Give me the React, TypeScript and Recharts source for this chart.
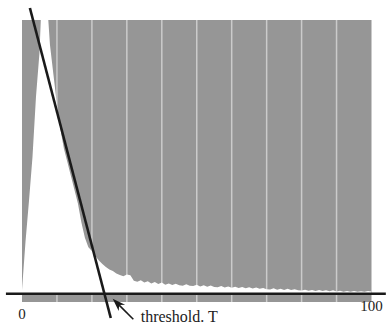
import React from "react";
import {
  ComposedChart,
  Area,
  XAxis,
  YAxis,
  CartesianGrid,
  ReferenceLine,
  ReferenceDot,
} from "recharts";

// histogram bins (grey level 0..100) and their counts
const binX = [
  0, 1, 2, 3, 4, 5, 6, 7, 8, 9, 10, 11, 12, 13, 14, 15, 16, 17, 18, 19, 20,
  21, 22, 23, 24, 25, 26, 27, 28, 29, 30, 31, 32, 33, 34, 35, 36, 37, 38, 39, 40,
  41, 42, 43, 44, 45, 46, 47, 48, 49, 50, 51, 52, 53, 54, 55, 56, 57, 58, 59, 60,
  61, 62, 63, 64, 65, 66, 67, 68, 69, 70, 71, 72, 73, 74, 75, 76, 77, 78, 79, 80,
  81, 82, 83, 84, 85, 86, 87, 88, 89, 90, 91, 92, 93, 94, 95, 96, 97, 98, 99, 100,
];
const counts = [
  1.4, 19, 34, 50, 72, 88, 120, 110, 91, 80, 69, 60, 53, 48, 43, 38, 33, 26, 20.5, 17, 15.6,
  13.8, 12.2, 10.9, 9.8, 8.9, 8.3, 7.4, 6.9, 6.4, 7.0, 6.8, 4.8, 4.4, 4.9, 4.1, 4.6, 3.8, 4.3, 3.6, 4.1,
  3.3, 3.8, 3.2, 3.7, 3.1, 2.9, 3.5, 2.9, 2.8, 3.3, 2.7, 3.1, 2.6, 3.0, 2.5, 2.4, 2.8, 2.3, 2.7, 2.2,
  2.6, 2.1, 2.5, 2.0, 2.4, 1.9, 2.3, 1.8, 2.1, 1.7, 1.6, 2.0, 1.5, 1.8, 1.4, 1.8, 1.4, 1.7, 1.3, 1.2,
  1.5, 1.1, 1.4, 1.0, 1.4, 1.0, 1.3, 0.9, 1.3, 0.8, 1.1, 0.7, 1.0, 0.7, 1.0, 0.7, 0.9, 0.7, 1.0, 0.8,
];

const xTicks = [0, 100];
const gridValues = [10, 20, 30, 40, 50, 60, 70, 80, 90];

// threshold line (data coordinates: start, end)
const thresholdLine = [
  { x: 2.26, y: 104.4 },
  { x: 25.4, y: -8.84 },
];
// horizontal baseline
const baseLine = [
  { x: -4.6, y: 0 },
  { x: 104.1, y: 0 },
];
// annotation arrow (tail -> tip)
const arrowLine = [
  { x: 31.85, y: -9.31 },
  { x: 25.95, y: -1.79 },
];
const annotation = { x: 33.96, y: -10.4, text: "threshold. T" };

const data = binX.map((x, i) => ({ x, count: counts[i] }));

const FONT = "'Liberation Serif', 'Times New Roman', serif";

const Tick = (props: any) => {
  const { x, payload, index } = props;
  // first label sits lower than the last one in the reference
  const baseline = index === 0 ? 319 : 311;
  return (
    <text
      x={x}
      y={baseline}
      textAnchor="middle"
      fontFamily={FONT}
      fontSize={15}
      fill="#222"
    >
      {payload.value}
    </text>
  );
};

const ArrowShape = (props: any) => {
  const { x1, y1, x2, y2 } = props;
  const dx = x2 - x1;
  const dy = y2 - y1;
  const len = Math.sqrt(dx * dx + dy * dy) || 1;
  const ux = dx / len;
  const uy = dy / len;
  const hl = 13;
  const hw = 4.5;
  const bx = x2 - ux * hl;
  const by = y2 - uy * hl;
  const px = -uy;
  const py = ux;
  const notchX = x2 - ux * hl * 0.7;
  const notchY = y2 - uy * hl * 0.7;
  return (
    <g>
      <line x1={x1} y1={y1} x2={notchX} y2={notchY} stroke="#1a1a1a" strokeWidth={1.6} />
      <polygon
        points={`${x2},${y2} ${bx + px * hw},${by + py * hw} ${notchX},${notchY} ${bx - px * hw},${by - py * hw}`}
        fill="#1a1a1a"
      />
    </g>
  );
};

const TextShape = (props: any) => {
  const { cx, cy } = props;
  return (
    <text x={cx} y={cy} fontFamily={FONT} fontSize={16} fill="#222">
      {annotation.text}
    </text>
  );
};

export default function App() {
  return (
    <div style={{ position: "absolute", left: 0, top: 0 }}>
      <ComposedChart
        width={386}
        height={324}
        data={data}
        margin={{ top: 20, right: 14.5, left: 22, bottom: 0 }}
      >
        <CartesianGrid
          horizontal={false}
          vertical={true}
          verticalValues={gridValues}
          fill="#969696"
          fillOpacity={1}
          stroke="#cbcbcb"
          strokeWidth={1.5}
        />
        <XAxis
          dataKey="x"
          type="number"
          domain={[0, 100]}
          ticks={xTicks}
          axisLine={false}
          tickLine={false}
          height={22}
          tick={Tick}
          interval={0}
          allowDataOverflow
        />
        <YAxis hide type="number" domain={[-3, 100]} allowDataOverflow />
        <Area
          dataKey="count"
          type="linear"
          fill="#ffffff"
          fillOpacity={1}
          stroke="none"
          baseValue={0}
          isAnimationActive={false}
        />
        <ReferenceLine
          segment={baseLine}
          stroke="#1a1a1a"
          strokeWidth={2.5}
          ifOverflow="visible"
        />
        <ReferenceLine
          segment={thresholdLine}
          stroke="#1a1a1a"
          strokeWidth={2.6}
          ifOverflow="visible"
        />
        <ReferenceLine
          segment={arrowLine}
          ifOverflow="visible"
          shape={<ArrowShape />}
        />
        <ReferenceDot
          x={annotation.x}
          y={annotation.y}
          r={0}
          ifOverflow="visible"
          shape={<TextShape />}
        />
      </ComposedChart>
    </div>
  );
}
